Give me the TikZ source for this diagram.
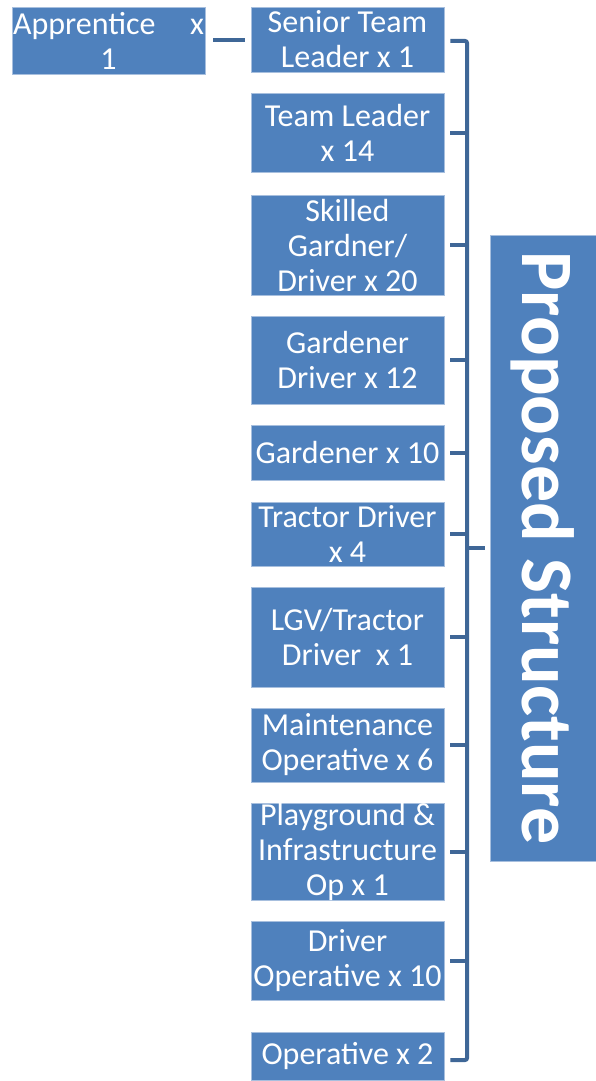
\documentclass[tikz,border=0pt]{standalone}
\usepackage{fontspec}
\setmainfont{Carlito}
\usetikzlibrary{positioning}
\definecolor{boxblue}{HTML}{4F81BD}
\definecolor{brackblue}{HTML}{3F6797}
\definecolor{boxedge}{HTML}{A7BFDE}

\begin{document}
\begin{tikzpicture}[x=1pt,y=-1pt,
    rolebox/.style={fill=boxblue,draw=boxedge,line width=.6pt,text=white,
      minimum width=193pt,align=center,inner sep=0pt,
      font=\fontsize{32}{35}\selectfont},
    brack/.style={draw=brackblue,line width=4pt}]
        % frame
        \useasboundingbox (0,0) rectangle (596,1081);
        % role boxes
        \foreach \n/\y/\h/\t in {
            1/39.5/65/{Senior Team\\Leader x 1},
            2/132.5/79/{Team Leader\\x 14},
            3/245/100/{Skilled\\Gardner/\\Driver x 20},
            4/360/88/{Gardener\\Driver x 12},
            5/452.5/55/{Gardener x 10},
            6/534/64/{Tractor Driver\\x 4},
            7/637/100/{LGV/Tractor\\Driver\ \ x 1},
            8/745/74/{Maintenance\\Operative x 6},
            9/851.5/97/{Playground \&\\Infrastructure\\Op x 1},
            10/960.5/79/{Driver\\Operative x 10},
            11/1056/48/{Operative x 2}}
          \node[rolebox,minimum height=\h pt] (r\n) at (347.5,\y) {\t};
        \node[rolebox,minimum height=67pt] (app) at (108.5,40.5)
            {\makebox[191pt]{Apprentice\hfill x}\\1};
        % title box
        \node[fill=boxblue,draw=boxedge,line width=.6pt,text=white,
              minimum width=626pt,minimum height=106pt,inner sep=0pt,
              rotate=-90,font=\bfseries\fontsize{74}{74}\selectfont]
            (title) at (543,548) {Proposed Structure};
        % bracket
        \coordinate (top) at (467,41);
        \coordinate (bot) at (467,1060);
        \coordinate (mid) at (467,548);
        \draw[brack,rounded corners=2pt] ([xshift=6pt]r1.east |- top) -- (top) -- (bot)
            -- ([xshift=6pt]r11.east |- bot);
        \foreach \n in {2,...,10}
          \draw[brack] ([xshift=6pt]r\n.east) -- (r\n.east -| top);
        \draw[brack] (mid) -- ([xshift=-5pt]title.south);
        \draw[brack] ([xshift=8pt]app.east) -- ([xshift=-6pt]r1.west |- app.east);
      \end{tikzpicture}
\end{document}
